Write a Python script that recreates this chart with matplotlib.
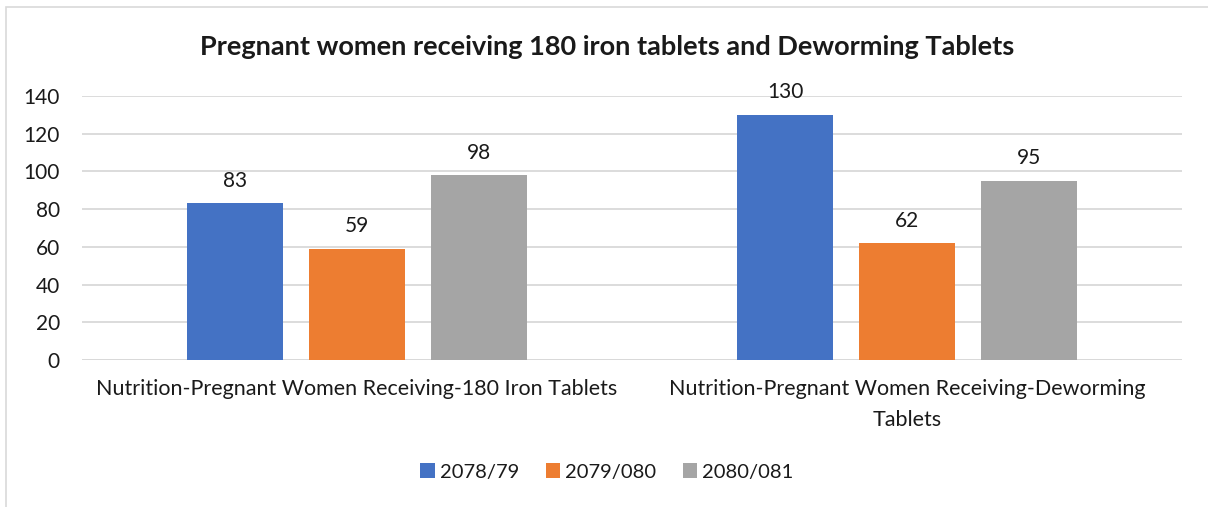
import numpy as np
import matplotlib.pyplot as plt
from matplotlib.patches import Rectangle

categories = ["Nutrition-Pregnant Women Receiving-180 Iron Tablets",
              "Nutrition-Pregnant Women Receiving-Deworming\nTablets"]
years = ["2078/79", "2079/080", "2080/081"]
values_2078 = [83, 130]
values_2079 = [59, 62]
values_2080 = [98, 95]
colors = ["#4472c4", "#ed7d31", "#a5a5a5"]

plt.rcParams['font.family'] = ['Lato', 'DejaVu Sans']

fig = plt.figure(figsize=(12.08, 5.07), dpi=100)
ax = fig.add_axes([0.0679, 0.2899, 0.9106, 0.5208])

# chart border (cut off at right and bottom like the reference)
fig.patches.append(Rectangle((6 / 1208, -0.05), 1.1, 1 - 7 / 507 + 0.05,
                             transform=fig.transFigure, fill=False,
                             edgecolor="#d9d9d9", linewidth=1.2))

x = np.arange(len(categories))
step = 0.2218
width = 0.175
series = [values_2078, values_2079, values_2080]
for i, (vals, lab, col) in enumerate(zip(series, years, colors)):
    bars = ax.bar(x + (i - 1) * step, vals, width, color=col, label=lab, zorder=3)
    for b, v in zip(bars, vals):
        ax.annotate(str(v), (b.get_x() + b.get_width() / 2, v),
                    xytext=(0, 9), textcoords="offset points",
                    ha="center", va="bottom", fontsize=15, color="#1a1a1a")

ax.set_xlim(-0.5, 1.5)
ax.set_ylim(0, 140)
ax.set_yticks(range(0, 141, 20))
ax.set_xticks(x)
ax.set_xticklabels(categories, fontsize=15.5, color="#1a1a1a", linespacing=1.65)
ax.tick_params(axis="y", labelsize=15, labelcolor="#1a1a1a", length=0, pad=16)
ax.tick_params(axis="x", length=0, pad=14)
ax.grid(axis="y", color="#d9d9d9", linewidth=1.3, zorder=0)
for s in ax.spines.values():
    s.set_visible(False)
ax.axhline(0, color="#d9d9d9", linewidth=1.3, zorder=1)

fig.text(0.5025, 0.907, "Pregnant women receiving 180 iron tablets and Deworming Tablets",
         ha="center", va="center", fontsize=19.5, fontweight="bold", color="#1a1a1a")

fig.legend(loc="center", bbox_to_anchor=(0.5025, 0.069), ncol=3, frameon=False,
           fontsize=14.5, handlelength=0.72, handleheight=0.72, handletextpad=0.26,
           columnspacing=1.3, labelcolor="#1a1a1a")

fig.savefig("out.png", dpi=100)
